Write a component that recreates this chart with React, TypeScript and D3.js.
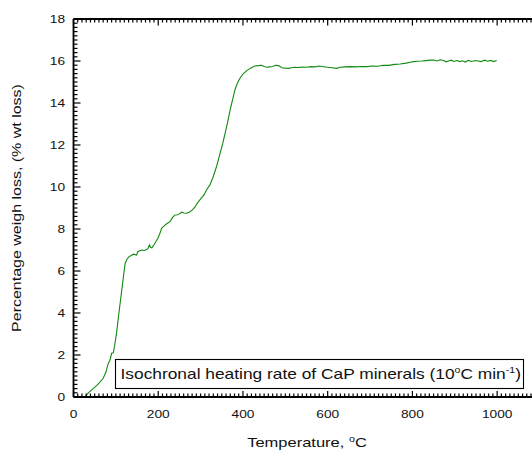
import React from "react";
import * as d3 from "d3";

const temps = [27, 35, 47, 55, 62, 70, 76, 82, 86, 90, 94, 98, 102, 106, 110, 114, 118, 122, 126, 130, 136, 142, 149, 152, 155, 161, 167, 173, 176, 179, 182, 185, 190, 195, 200, 204, 208, 214, 220, 228, 234, 240, 246, 250, 255, 261, 267, 273, 280, 287, 291, 296, 302, 308, 314, 322, 330, 338, 346, 352, 358, 364, 370, 376, 381, 387, 393, 400, 409, 418, 428, 436, 444, 450, 456, 462, 470, 477, 484, 492, 500, 507, 515, 522, 530, 540, 550, 560, 570, 580, 590, 600, 610, 621, 630, 640, 653, 665, 680, 692, 705, 718, 731, 745, 758, 771, 785, 795, 802, 812, 822, 832, 842, 850, 858, 866, 874, 880, 885, 892, 898, 905, 912, 918, 925, 932, 940, 948, 955, 962, 970, 978, 985, 992, 999];
const weightLoss = [0, 0.2, 0.41, 0.55, 0.7, 0.89, 1.15, 1.6, 1.75, 2.08, 2.1, 2.56, 3.1, 3.8, 4.45, 5.1, 5.75, 6.37, 6.55, 6.66, 6.74, 6.8, 6.76, 6.92, 6.95, 7.0, 6.98, 7.02, 7.08, 7.24, 7.12, 7.1, 7.25, 7.42, 7.6, 7.8, 8.03, 8.15, 8.25, 8.35, 8.55, 8.67, 8.68, 8.72, 8.8, 8.76, 8.75, 8.8, 8.9, 9.05, 9.2, 9.33, 9.48, 9.62, 9.86, 10.1, 10.5, 11.0, 11.6, 12.05, 12.56, 13.1, 13.7, 14.2, 14.62, 14.95, 15.18, 15.38, 15.54, 15.66, 15.76, 15.78, 15.8, 15.74, 15.7, 15.72, 15.74, 15.8, 15.78, 15.68, 15.66, 15.65, 15.68, 15.7, 15.69, 15.71, 15.7, 15.73, 15.72, 15.76, 15.73, 15.7, 15.68, 15.65, 15.7, 15.72, 15.73, 15.72, 15.74, 15.73, 15.76, 15.75, 15.8, 15.79, 15.84, 15.86, 15.9, 15.94, 15.97, 15.99, 16.0, 16.02, 16.04, 16.05, 16.0, 16.06, 16.02, 15.96, 16.0, 16.04, 15.98, 16.02, 15.97, 16.01, 15.95, 16.03, 15.98, 16.02, 16.0, 15.97, 16.04, 15.99, 16.03, 15.97, 16.02];

const xTickValues = [0, 200, 400, 600, 800, 1000];
const yTickValues = [0, 2, 4, 6, 8, 10, 12, 14, 16, 18];

const FONT = "'Liberation Sans', Arial, Helvetica, sans-serif";
const SX = 1.27; // horizontal stretch of the glyphs

export default function App() {
  const x = d3.scaleLinear().domain([0, 1100]).range([73.5, 539.5]);
  const y = d3.scaleLinear().domain([0, 18]).range([397, 19]);
  const line = d3
    .line<number>()
    .x((_, i) => x(temps[i]))
    .y((d) => y(d));

  const xMinor = d3.range(0, 1101, 10);
  const yMinor = d3.range(0, 18.01, 0.2);
  const isMajorX = (v: number) => Math.abs(v % 200) < 1e-6;
  const isMajorY = (v: number) => Math.abs(v - Math.round(v / 2) * 2) < 1e-6;

  const x0 = x(0);
  const x1 = x(1100);
  const yb = y(0);
  const yt = y(18);

  return (
    <svg
      width={532}
      height={450}
      style={{ position: "fixed", left: 0, top: 0, background: "#fff" }}
      fontFamily={FONT}
    >
      <rect x={0} y={0} width={532} height={450} fill="#fff" />
      <path d={line(weightLoss) || ""} fill="none" stroke="#118a11" strokeWidth={1.1} />

      {/* bottom ticks */}
      {xMinor.map((v) => (
        <line key={"bx" + v} x1={x(v)} x2={x(v)} y1={yb} y2={yb - (isMajorX(v) ? 6 : 3.5)} stroke="#000" strokeWidth={1.2} />
      ))}
      {/* top ticks */}
      {xMinor.map((v) => (
        <line key={"tx" + v} x1={x(v)} x2={x(v)} y1={yt} y2={yt + (isMajorX(v) ? 6.5 : 3.5)} stroke="#000" strokeWidth={1.2} />
      ))}
      {/* left ticks */}
      {yMinor.map((v) => (
        <line key={"ly" + v} x1={x0} x2={x0 + (isMajorY(v) ? 7 : 4)} y1={y(v)} y2={y(v)} stroke="#000" strokeWidth={1.2} />
      ))}
      {/* axis lines */}
      <line x1={x0} x2={x1} y1={yb} y2={yb} stroke="#000" strokeWidth={1.8} />
      <line x1={x0} x2={x1} y1={yt} y2={yt} stroke="#000" strokeWidth={1.8} />
      <line x1={x0} x2={x0} y1={yt} y2={yb} stroke="#000" strokeWidth={1.8} />

      {xTickValues.map((v) => (
        <text
          key={"xl" + v}
          transform={`translate(${x(v)}, 417.5) scale(${SX},1)`}
          textAnchor="middle"
          fontSize={10.8}
          fill="#111"
        >
          {v}
        </text>
      ))}
      {yTickValues.map((v) => (
        <text
          key={"yl" + v}
          transform={`translate(65, ${y(v) + 4}) scale(${SX},1)`}
          textAnchor="end"
          fontSize={10.8}
          fill="#111"
        >
          {v}
        </text>
      ))}

      <text transform={`translate(307, 447) scale(${SX},1)`} textAnchor="middle" fontSize={13} fill="#111">
        Temperature,{" "}
        <tspan fontSize={8.5} dy={-5}>o</tspan>
        <tspan dy={5}>C</tspan>
      </text>

      <text
        transform={`translate(21, ${(yt + yb) / 2}) rotate(-90) scale(1.23,1)`}
        textAnchor="middle"
        fontSize={13}
        fill="#111"
      >
        Percentage weigh loss, (% wt loss)
      </text>

      <rect x={115.5} y={359.5} width={408} height={29} fill="#fff" stroke="#000" strokeWidth={1.1} />
      <text transform={`translate(120.5, 379.3) scale(1.24,1)`} fontSize={14} fill="#111">
        Isochronal heating rate of CaP minerals (10
        <tspan fontSize={8.5} dy={-6}>o</tspan>
        <tspan dy={6}>C min</tspan>
        <tspan fontSize={8.5} dy={-6}>-1</tspan>
        <tspan dy={6}>)</tspan>
      </text>
    </svg>
  );
}
